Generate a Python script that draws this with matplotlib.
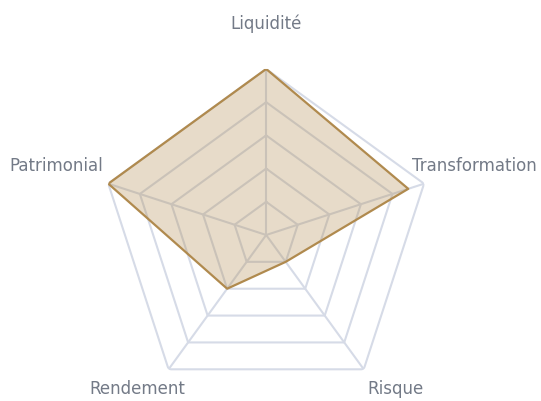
import matplotlib
matplotlib.use("Agg")
import matplotlib.pyplot as plt
import numpy as np

categories = ["Liquidité", "Transformation", "Risque", "Rendement", "Patrimonial"]
values = [100, 90, 20, 40, 100]
rings = [20, 40, 60, 80, 100]

# label placement (radius, angle in degrees clockwise from top)
label_r = [124, 131, 123.5, 123.5, 132]
label_deg = [0, 73, 141, 219, 287]

line_color = "#b08a4e"
grid_color = "#d6dbe7"
text_color = "#737a87"

n = len(categories)
theta = np.linspace(0, 2 * np.pi, n, endpoint=False)
theta_closed = np.append(theta, theta[0])

fig = plt.figure(figsize=(5.41, 4.01), dpi=100)
ax = fig.add_axes([0.185, 0.0, 0.614, 0.828], projection="polar")
ax.set_theta_offset(np.pi / 2)
ax.set_theta_direction(-1)
ax.set_ylim(0, 100)
ax.axis("off")

# polygon grid
for r in rings:
    ax.plot(theta_closed, [r] * (n + 1), color=grid_color, lw=1.5, zorder=1)
for t in theta:
    ax.plot([t, t], [0, rings[-1]], color=grid_color, lw=1.5, zorder=1)

vals = values + values[:1]
ax.fill(theta_closed, vals, color=line_color, alpha=0.3, lw=0, zorder=2)
ax.plot(theta_closed, vals, color=line_color, lw=1.6, zorder=3)

for name, r, d in zip(categories, label_r, label_deg):
    ax.text(np.deg2rad(d), r, name, ha="center", va="baseline",
            fontsize=12, color=text_color)

fig.savefig("out.png", dpi=100)
